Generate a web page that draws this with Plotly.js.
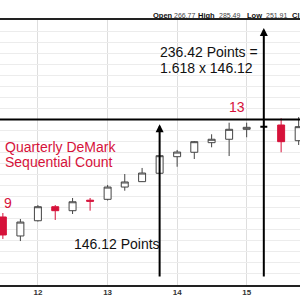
<!DOCTYPE html>
<html>
<head>
<meta charset="utf-8">
<script src="https://cdn.plot.ly/plotly-3.0.1.min.js"></script>
<style>html,body{margin:0;padding:0;background:#fff;}#chart{width:300px;height:300px;}</style>
</head>
<body>
<div id="chart"></div>
<script>
// Quarterly candles (x = quarter start)
var dates = ['2011-07-01','2011-10-01','2012-01-01','2012-04-01','2012-07-01','2012-10-01','2013-01-01','2013-04-01','2013-07-01','2013-10-01','2014-01-01','2014-04-01','2014-07-01','2014-10-01','2015-01-01','2015-07-01','2015-10-01'];
var opens  = [201.6,184.4,198.2,210.9,207.3,216.8,217.6,228.7,233.6,241.2,256.2,260.2,268.9,272.0,281.0,284.9,270.7];
var highs  = [205.2,199.8,212.4,212.4,218.8,218.8,230.6,240.5,246.0,257.7,262.3,270.4,276.5,287.0,287.0,291.0,292.1];
var lows   = [181.7,179.8,197.5,198.9,204.3,207.3,216.5,225.4,233.3,240.5,247.1,254.1,264.7,256.8,273.8,260.2,266.8];
var closes = [185.3,197.0,210.9,207.3,215.4,215.9,228.7,233.3,241.4,257.1,260.4,269.8,272.0,281.0,282.8,269.8,283.4];

// Doji quarter (drawn black)
var dojiDates = ['2015-04-01'];
var dojiOpen  = [283.4];
var dojiHigh  = [283.9];
var dojiLow   = [282.9];
var dojiClose = [283.4];

// Year ticks
var yearTicks  = ['2012-01-01','2013-01-01','2014-01-01','2015-01-01'];
var yearLabels = ['12','13','14','15'];

// Header quote
var headerLabels = ['Open','High','Low','Cl'];
var headerValues = ['266.77','285.49','251.91',''];

// Measurement arrows (x, base, tip) and the level line
var arrowX     = ['2013-10-01','2015-04-01'];
var arrowBase  = [146.3,146.3];
var arrowTip   = [285.5,372.8];
var levelPrice = 290;

var RED = '#d6123a';
var FONT = 'Liberation Sans, Arial, sans-serif';

var traces = [
  {
    type: 'candlestick', x: dates, open: opens, high: highs, low: lows, close: closes,
    increasing: {line: {color: '#444', width: 1}, fillcolor: '#ffffff'},
    decreasing: {line: {color: RED, width: 1}, fillcolor: RED},
    whiskerwidth: 0, showlegend: false, hoverinfo: 'skip'
  },
  {
    type: 'candlestick', x: dojiDates, open: dojiOpen, high: dojiHigh, low: dojiLow, close: dojiClose,
    increasing: {line: {color: '#000', width: 2}, fillcolor: '#000'},
    decreasing: {line: {color: '#000', width: 2}, fillcolor: '#000'},
    whiskerwidth: 0, showlegend: false, hoverinfo: 'skip'
  }
];

var annotations = [];
for (var i = 0; i < arrowX.length; i++) {
  annotations.push({
    x: arrowX[i], y: arrowTip[i], xref: 'x', yref: 'y',
    ax: arrowX[i], ay: arrowBase[i], axref: 'x', ayref: 'y',
    text: '', showarrow: true, arrowhead: 2, arrowsize: 0.8, arrowwidth: 2,
    arrowcolor: '#000', standoff: 0, startstandoff: 0
  });
}
function txt(t, px, py, color, size, anchor) {
  annotations.push({
    text: t, xref: 'paper', yref: 'paper', x: px / 300, y: (285 - py) / 265,
    xanchor: anchor || 'left', yanchor: 'middle', showarrow: false,
    font: {family: FONT, size: size, color: color}, borderpad: 0
  });
}
txt('236.42 Points =', 159, 51.7, '#111', 14);
txt('1.618 x 146.12', 159, 67.7, '#111', 14);
txt('146.12 Points', 73, 244, '#111', 14);
txt('Quarterly DeMark', 4, 146.7, RED, 14);
txt('Sequential Count', 4, 161.7, RED, 14);
txt('9', 7.5, 203, RED, 14, 'center');
txt('13', 237, 107, RED, 14, 'center');

var headerLabelX = [152, 197, 246, 291];
var headerValueX = [173, 218, 265, 0];
for (var k = 0; k < headerLabels.length; k++) {
  txt('<b>' + headerLabels[k] + '</b>', headerLabelX[k], 15, '#111', 7.5);
  if (headerValues[k]) txt(headerValues[k], headerValueX[k], 15, '#444', 7);
}

var layout = {
  width: 300, height: 300,
  margin: {l: 0, r: 0, t: 20, b: 15},
  paper_bgcolor: '#fff', plot_bgcolor: '#fff',
  boxgap: 0.42,
  xaxis: {
    type: 'date', range: ['2011-06-16', '2015-10-08'],
    rangeslider: {visible: false},
    tickvals: yearTicks, ticktext: yearLabels,
    tickfont: {family: FONT, size: 8, color: '#333', weight: 'bold'},
    ticks: '', ticklabelstandoff: -2,
    showgrid: true, gridcolor: '#dedede', gridwidth: 1,
    showline: true, linecolor: '#222', linewidth: 2, mirror: true,
    zeroline: false, fixedrange: true
  },
  yaxis: {
    range: [140, 380], dtick: 10, tick0: 0,
    showticklabels: false, ticks: '',
    showgrid: true, gridcolor: '#ececec', gridwidth: 1,
    zeroline: false, showline: false, fixedrange: true
  },
  shapes: [
    {type: 'line', xref: 'paper', x0: 0, x1: 1, yref: 'y', y0: levelPrice, y1: levelPrice,
     line: {color: '#000', width: 2}}
  ],
  annotations: annotations,
  showlegend: false
};

Plotly.newPlot('chart', traces, layout, {staticPlot: true, displayModeBar: false});
</script>
</body>
</html>
